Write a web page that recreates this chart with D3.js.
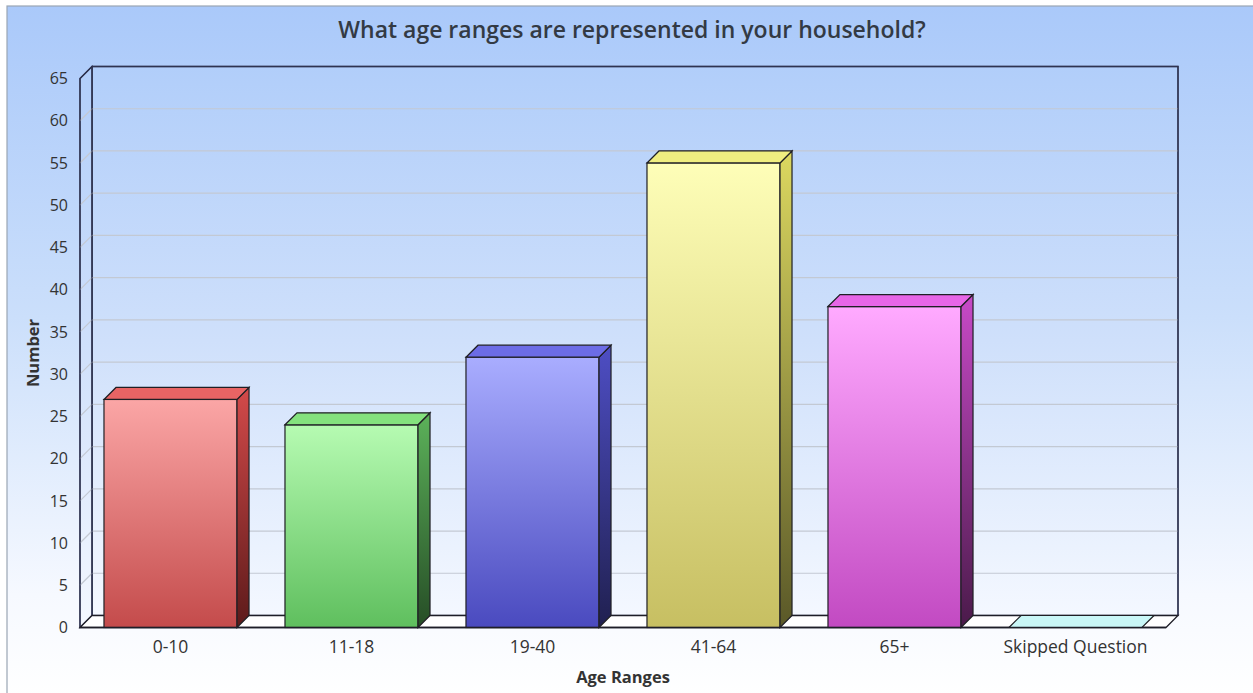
<!DOCTYPE html>
<html>
<head>
<meta charset="utf-8">
<script src="https://cdn.jsdelivr.net/npm/d3@7"></script>
<style>
  html, body { margin: 0; padding: 0; background: #ffffff; }
  svg { display: block; font-family: "Open Sans", "Noto Sans", sans-serif; }
</style>
</head>
<body>
<svg id="chart" width="1253" height="693"></svg>
<script>
// ---- data ----
const categories = ["0-10", "11-18", "19-40", "41-64", "65+", "Skipped Question"];
const values = [27, 24, 32, 55, 38, 0];
const yTicks = [0, 5, 10, 15, 20, 25, 30, 35, 40, 45, 50, 55, 60, 65];
const titleText = "What age ranges are represented in your household?";
const xTitle = "Age Ranges";
const yTitle = "Number";
// colours per bar: [frontTop, frontBottom, topFace, sideTop, sideBottom]
const barColors = [
  ["#fba6a6", "#c44b4b", "#e86464", "#d44a4a", "#5c1a1a"],
  ["#b6fbb2", "#5fbf5e", "#84e27e", "#5cb25a", "#264d26"],
  ["#a9adff", "#4a4abf", "#6c6ce6", "#4e4ec4", "#202050"],
  ["#fefeb8", "#c7bf62", "#f0ee80", "#dcd860", "#5a5828"],
  ["#ffaaff", "#c24ac2", "#e766e7", "#c84ac8", "#4a1a4a"],
  ["#c9f7f7", "#c9f7f7", "#c9f7f7", "#9ad8d8", "#5a9a9a"]
];

const svg = d3.select("#chart");
const W = 1253, H = 693;
const D = 12; // 3D depth offset
const defs = svg.append("defs");

// background gradient
const bg = defs.append("linearGradient").attr("id", "bg").attr("x1", 0).attr("y1", 0).attr("x2", 0).attr("y2", 1);
bg.append("stop").attr("offset", "0%").attr("stop-color", "#aac9fa");
bg.append("stop").attr("offset", "45%").attr("stop-color", "#cbdffb");
bg.append("stop").attr("offset", "85%").attr("stop-color", "#f6f9ff");
bg.append("stop").attr("offset", "100%").attr("stop-color", "#ffffff");

svg.append("rect").attr("x", 7).attr("y", 6).attr("width", W).attr("height", H)
  .attr("fill", "url(#bg)").attr("stroke", "#9aa6b4").attr("stroke-width", 1.2);

// scales
const x = d3.scaleBand().domain(categories).range([80, 1166]).paddingInner(0.265).paddingOuter(0.1325);
const y = d3.scaleLinear().domain([0, 65]).range([627.5, 78.5]);

const y0 = y(0), yTop = y(65);
const xL = x.range()[0], xR = x.range()[1];

// back wall
const wallG = defs.append("linearGradient").attr("id", "wall").attr("x1", 0).attr("y1", 0).attr("x2", 0).attr("y2", 1);
wallG.append("stop").attr("offset", "0%").attr("stop-color", "#b1cefa");
wallG.append("stop").attr("offset", "50%").attr("stop-color", "#cfe0fb");
wallG.append("stop").attr("offset", "100%").attr("stop-color", "#f4f8ff");

svg.append("rect").attr("x", xL + D).attr("y", yTop - D).attr("width", xR - xL).attr("height", y0 - yTop)
  .attr("fill", "url(#wall)").attr("stroke", "#2e3350").attr("stroke-width", 1.3);

// left wall
svg.append("path")
  .attr("d", `M${xL},${y0} L${xL},${yTop} L${xL + D},${yTop - D} L${xL + D},${y0 - D} Z`)
  .attr("fill", "url(#wall)").attr("stroke", "#2e3350").attr("stroke-width", 1.3);

// gridlines
const gridVals = yTicks.filter(v => v > 0 && v < 65);
svg.append("g").selectAll("line.h").data(gridVals).join("line")
  .attr("x1", xL + D).attr("x2", xR + D)
  .attr("y1", d => y(d) - D).attr("y2", d => y(d) - D)
  .attr("stroke", "#c3c9d3").attr("stroke-width", 1.2);
svg.append("g").selectAll("line.d").data(gridVals).join("line")
  .attr("x1", xL).attr("x2", xL + D)
  .attr("y1", d => y(d)).attr("y2", d => y(d) - D)
  .attr("stroke", "#c3c9d3").attr("stroke-width", 1.2);

// redraw wall outline edges over gridlines
svg.append("path")
  .attr("d", `M${xL},${y0} L${xL},${yTop} L${xL + D},${yTop - D} L${xR + D},${yTop - D} L${xR + D},${y0 - D}`)
  .attr("fill", "none").attr("stroke", "#2e3350").attr("stroke-width", 1.3);
svg.append("line").attr("x1", xL + D).attr("x2", xL + D).attr("y1", yTop - D).attr("y2", y0 - D)
  .attr("stroke", "#2e3350").attr("stroke-width", 1.3);

// floor
svg.append("path")
  .attr("d", `M${xL},${y0} L${xL + D},${y0 - D} L${xR + D},${y0 - D} L${xR},${y0} Z`)
  .attr("fill", "#ffffff").attr("stroke", "#1e1e28").attr("stroke-width", 1.3);

// gradients for bars
barColors.forEach((c, i) => {
  const gf = defs.append("linearGradient").attr("id", "front" + i).attr("x1", 0).attr("y1", 0).attr("x2", 0).attr("y2", 1);
  gf.append("stop").attr("offset", "0%").attr("stop-color", c[0]);
  gf.append("stop").attr("offset", "100%").attr("stop-color", c[1]);
  const gs = defs.append("linearGradient").attr("id", "side" + i).attr("x1", 0).attr("y1", 0).attr("x2", 0).attr("y2", 1);
  gs.append("stop").attr("offset", "0%").attr("stop-color", c[3]);
  gs.append("stop").attr("offset", "100%").attr("stop-color", c[4]);
});

const data = categories.map((c, i) => ({ cat: c, v: values[i], i }));
const bars = svg.append("g").selectAll("g.bar").data(data).join("g").attr("class", "bar");

bars.each(function (d) {
  const g = d3.select(this);
  const x0 = x(d.cat), x1 = x(d.cat) + x.bandwidth();
  const yt = y(d.v);
  const stroke = "#1f1f24";
  if (d.v > 0) {
    g.append("rect").attr("x", x0).attr("y", yt).attr("width", x1 - x0).attr("height", y0 - yt)
      .attr("fill", `url(#front${d.i})`).attr("stroke", stroke).attr("stroke-width", 1.2);
    g.append("path")
      .attr("d", `M${x1},${yt} L${x1 + D},${yt - D} L${x1 + D},${y0 - D} L${x1},${y0} Z`)
      .attr("fill", `url(#side${d.i})`).attr("stroke", stroke).attr("stroke-width", 1.2);
  }
  g.append("path")
    .attr("d", `M${x0},${yt} L${x0 + D},${yt - D} L${x1 + D},${yt - D} L${x1},${yt} Z`)
    .attr("fill", barColors[d.i][2]).attr("stroke", stroke).attr("stroke-width", 1.2);
});

// front floor edge redraw
svg.append("line").attr("x1", xL).attr("x2", xR).attr("y1", y0).attr("y2", y0)
  .attr("stroke", "#1e1e28").attr("stroke-width", 1.3);

// y tick labels
svg.append("g").selectAll("text").data(yTicks).join("text")
  .attr("x", 68).attr("y", d => y(d)).attr("dy", "0.36em")
  .attr("text-anchor", "end").attr("font-size", 16).attr("fill", "#333")
  .text(d => d);

// x tick labels
svg.append("g").selectAll("text").data(categories).join("text")
  .attr("x", d => x(d) + x.bandwidth() / 2).attr("y", 653)
  .attr("text-anchor", "middle").attr("font-size", 17.5).attr("fill", "#333")
  .text(d => d);

// axis titles
svg.append("text").attr("x", (xL + xR) / 2).attr("y", 683)
  .attr("text-anchor", "middle").attr("font-size", 16.5).attr("font-weight", "bold").attr("fill", "#333")
  .text(xTitle);
svg.append("text").attr("transform", `translate(39,${(y0 + yTop) / 2}) rotate(-90)`)
  .attr("text-anchor", "middle").attr("font-size", 16.5).attr("font-weight", "bold").attr("fill", "#333")
  .text(yTitle);

// title
svg.append("text").attr("x", 632).attr("y", 38)
  .attr("text-anchor", "middle").attr("font-size", 23).attr("font-weight", 600).attr("fill", "#333a44")
  .text(titleText);
</script>
</body>
</html>
